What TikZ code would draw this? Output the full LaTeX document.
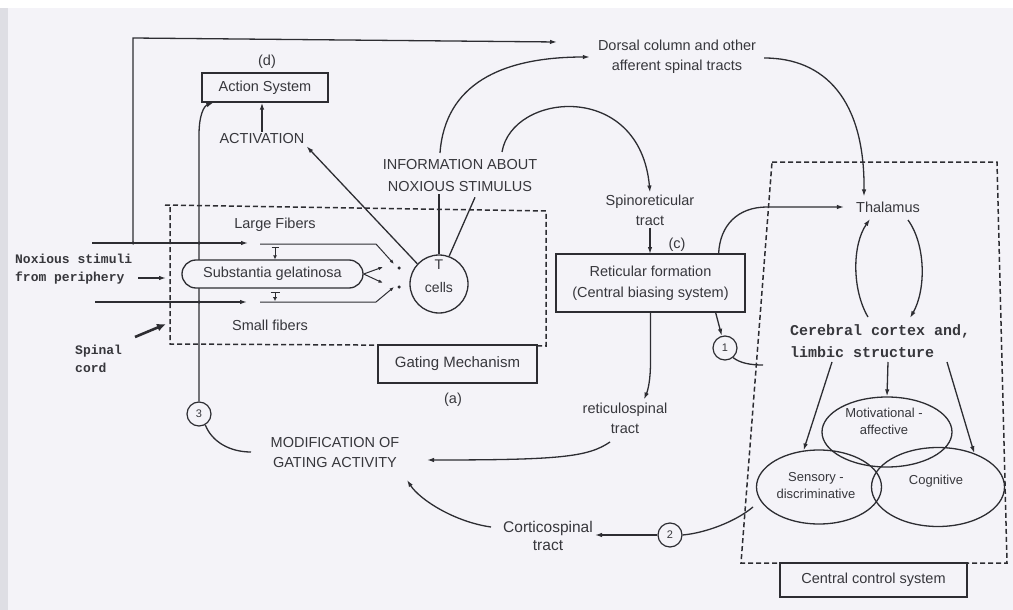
\documentclass[tikz,border=0pt]{standalone}
\usepackage{fontspec}
\setmainfont{Liberation Sans}
\newfontfamily\monofnt{Liberation Mono}
\usetikzlibrary{arrows.meta,shapes.geometric,calc}
\definecolor{bgc}{RGB}{244,243,248}
\definecolor{inkc}{RGB}{45,45,50}
\definecolor{txtc}{RGB}{55,55,60}
\definecolor{stripc}{RGB}{222,222,228}
\begin{document}
\begin{tikzpicture}[x=1pt,y=-1pt,
  lbl/.style={font=\fontsize{14.5}{20}\selectfont, text=txtc, align=center, inner sep=2pt},
  sml/.style={font=\fontsize{13}{17}\selectfont, text=txtc, align=center, inner sep=1pt},
  mono/.style={font=\monofnt\bfseries\fontsize{13}{18}\selectfont, text=txtc, align=left, inner sep=0pt, anchor=west},
  boxn/.style={draw=inkc, line width=1.3pt, fill=bgc, lbl, inner sep=0pt},
  conn/.style={draw=inkc, line width=1.3pt},
  arr/.style={conn, -{Latex[length=7pt,width=4.5pt]}},
  tinyarr/.style={conn, line width=1pt, -{Latex[length=4.5pt,width=3.5pt]}},
  dashbox/.style={draw=inkc, line width=1.5pt, dash pattern=on 5pt off 3pt},
  numc/.style={circle, draw=inkc, line width=1.2pt, minimum size=24pt, inner sep=0pt, font=\fontsize{11}{12}\selectfont, text=txtc},
  ell/.style={ellipse, draw=inkc, line width=1.3pt, inner sep=0pt},
  jdot/.style={circle, fill=inkc, inner sep=0pt, minimum size=3.5pt}
]
% background
\fill[bgc] (0,0) rectangle (1013,610);
\fill[white] (0,0) rectangle (1013,8);
\fill[stripc] (0,8) rectangle (8,610);
\useasboundingbox (0,0) rectangle (1013,610);

% dashed enclosures
\draw[dashbox] (165,205) -- (546,211) -- (546,346) -- (170,344) -- (170,205);
\draw[dashbox] (772,162) -- (997,162) -- (1007,563) -- (741,563) -- cycle;

% coordinates
\coordinate (lfj) at (133,243);
\coordinate (topc) at (133,38);
\coordinate (topend) at (557,42);
\coordinate (lfa) at (92,243);
\coordinate (lfb) at (248,243);
\coordinate (lfc) at (260,244);
\coordinate (sfa) at (95,302);
\coordinate (sfb) at (247,302);
\coordinate (sfc) at (260,302);
\coordinate (nxa) at (138,278);
\coordinate (nxb) at (166,278);
\coordinate (spa) at (135,337);
\coordinate (spb) at (166,324);
\coordinate (mcw) at (251,452);
\coordinate (mce) at (427,460);
\coordinate (mcs) at (407,480);
\coordinate (rs1) at (610,442);
\coordinate (cs1) at (491,527);
\coordinate (c1end) at (763,365);
\coordinate (c2end) at (753,507);
\coordinate (ia1) at (440,153);
\coordinate (ia2) at (502,152);
\coordinate (tl1) at (868,317);
\coordinate (tl2) at (870,219);
\coordinate (tr1) at (908,220);
\coordinate (tr2) at (910,318);
\coordinate (ca1) at (832,362);
\coordinate (ca2) at (888,362);
\coordinate (ca3) at (947,362);
\coordinate (sgu1) at (275,247);
\coordinate (sgl0) at (275,292);
\coordinate (sgl1) at (275,301);

% labels
\node[lbl] (d) at (267,62) {(d)};
\node[boxn, minimum width=126pt, minimum height=29pt] (action) at (265,87.5) {Action System};
\node[lbl] (activation) at (262,139) {ACTIVATION};
\node[lbl, font=\fontsize{14.5}{22}\selectfont] (info) at (460,176) {INFORMATION ABOUT\\NOXIOUS STIMULUS};
\node[lbl] (dorsal) at (677,57) {Dorsal column and other\\afferent spinal tracts};
\node[lbl] (spinoret) at (650,210) {Spinoreticular\\tract};
\node[lbl] (c) at (677,245) {(c)};
\node[lbl] (thal) at (888,207) {Thalamus};
\node[mono, font=\monofnt\bfseries\fontsize{15}{22}\selectfont] (cortex) at (790,341) {Cerebral cortex and,\\limbic structure};
\node[lbl] (largef) at (275,225) {Large Fibers};
\node[lbl] (smallf) at (270,325) {Small fibers};
\node[mono] (noxious) at (15,269) {Noxious stimuli\\from periphery};
\node[mono] (spinal) at (75,359) {Spinal\\cord};
\node[lbl] (a) at (453,400) {(a)};
\node[lbl] (modif) at (335,453) {MODIFICATION OF\\GATING ACTIVITY};
\node[lbl] (retsp) at (625,418) {reticulospinal\\tract};
\node[lbl, font=\fontsize{15.5}{18}\selectfont] (cortico) at (548,536) {Corticospinal\\tract};

% top feedback line and fibers
\draw[arr] (lfj) -- (topc) -- (topend);
\draw[arr] (lfa) -- (lfb);
\draw[arr] (sfa) -- (sfb);
\draw[arr] (nxa) -- (nxb);
\draw[draw=inkc, line width=2.6pt, -{Latex[length=9pt,width=8pt]}] (spa) -- (spb);

% circle 3 and its line up to the action system
\node[numc] (n3) at (199,414) {3};
\draw[arr] (n3) -- (199,135) .. controls (199,115) and (204,106) .. ($(action.south west)+(12,0)$);
\draw[conn] (n3.-60) .. controls (212,442) and (230,452) .. (mcw);

% substantia gelatinosa and T cells
\draw[tinyarr] (lfc) -- (376,244) -- (394,264);
\draw[tinyarr] (sfc) -- (376,302) -- (394,287);
\node[draw=inkc, line width=1.3pt, fill=bgc, rounded corners=14pt, minimum width=181pt, minimum height=28pt, inner sep=0pt, font=\fontsize{14.5}{17}\selectfont, text=txtc] (sg) at (272.5,274) {Substantia gelatinosa};
\draw[tinyarr] (sg.east) -- (383,267);
\draw[tinyarr] (sg.east) -- (383,283);
\node[jdot] (p1) at (399,268) {};
\node[jdot] (p2) at (399,287) {};
\node[jdot] (j1) at (133,243) {};
\node[jdot] (j2) at (199,243) {};
\node[jdot] (j3) at (199,302) {};
\draw[conn, line width=1pt, {Bar[width=7pt]}-{Latex[length=4pt,width=4pt]}] (sgu1) -- (sgu1 |- sg.north);
\draw[conn, line width=1pt, {Bar[width=9pt]}-{Latex[length=4pt,width=4.5pt]}] (sgl0) -- (sgl1);

\node[circle, draw=inkc, line width=1.3pt, minimum size=58pt, inner sep=0pt] (tcell) at (439,284) {};
\node[lbl, font=\fontsize{14}{23}\selectfont] (tcellt) at (439,276) {T\\cells};
\draw[conn] (info.south -| tcell.north) -- (tcell.north);
\draw[conn] ($(info.south)+(15,3)$) -- (tcell.70);
\draw[arr] (tcell.137) -- (activation.south east);
\draw[arr] (activation.north) -- (activation.north |- action.south);

% gating mechanism box
\node[boxn, minimum width=159pt, minimum height=38pt, font=\fontsize{15}{18}\selectfont] (gating) at (457.5,364) {Gating Mechanism};

% information arcs
\draw[arr] (ia1) .. controls (445,85) and (500,57) .. ($(dorsal.west)+(-6,0)$);
\draw[arr] (ia2) .. controls (512,92) and (640,80) .. (spinoret.north);
\draw[arr] (spinoret.south) -- (spinoret.south |- 0,254);

% reticular formation
\node[boxn, minimum width=189pt, minimum height=58pt, font=\fontsize{14.5}{21}\selectfont] (retic) at (650.5,283) {Reticular formation\\(Central biasing system)};
\draw[arr] ($(retic.north east)+(-27,0)$) .. controls (720,225) and (738,207) .. (767,207) -- ($(thal.west)+(-10,0)$);
\draw[arr] ($(dorsal.east)+(6,1)$) .. controls (825,58) and (865,100) .. ($(thal.north west)+(10,-3)$);
\draw[arr] (retic.south) -- (650.5,362) .. controls (650.5,380) and (648,390) .. ($(retsp.north)+(19,-1)$);
\draw[arr] (rs1) .. controls (588,457) and (560,460) .. (mce);
\draw[arr] (cs1) .. controls (455,522) and (420,500) .. (mcs);

% circle 1
\node[numc] (n1) at (725,348) {1};
\draw[arr] ($(retic.south east)+(-30,0)$) -- (n1);
\draw[conn] (n1.-50) .. controls (740,363) and (750,365) .. (c1end);

% circle 2
\node[numc] (n2) at (670,535) {2};
\draw[arr] (n2) -- (n2 -| cortico.east);
\draw[conn] (n2.east) .. controls (705,533) and (735,522) .. (c2end);

% thalamus <-> cortex
\draw[arr] (tl1) .. controls (852,290) and (852,245) .. (tl2);
\draw[arr] (tr1) .. controls (926,245) and (926,290) .. (tr2);

% ellipses
\node[ell, minimum width=130pt, minimum height=70pt] (motiv) at (887,432) {};
\node[ell, minimum width=125pt, minimum height=74pt] (sens) at (819,487) {};
\node[ell, minimum width=133pt, minimum height=79pt] (cog) at (938,487) {};
\node[sml] (motivt) at (884,421) {Motivational -\\affective};
\node[sml] (senst) at (816,486) {Sensory -\\discriminative};
\node[sml] (cogt) at (936,481) {Cognitive};
\draw[arr] (ca1) -- (sens.113);
\draw[arr] (ca2) -- (motiv.north);
\draw[arr] (ca3) -- (cog.43);

% central control system
\node[boxn, minimum width=187pt, minimum height=34pt, font=\fontsize{14.5}{17}\selectfont] (central) at (873.5,580) {Central control system};
\end{tikzpicture}
\end{document}
